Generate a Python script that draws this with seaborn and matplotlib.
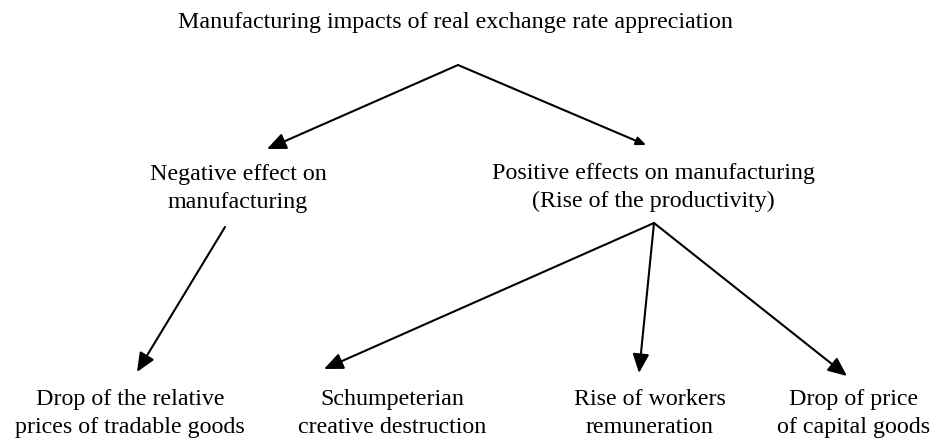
import matplotlib
matplotlib.use("Agg")
import matplotlib.pyplot as plt
import seaborn as sns

# ---- content ----
title = "Manufacturing impacts of real exchange rate appreciation"
node_labels = [
    "Negative effect on\nmanufacturing",
    "Positive effects on manufacturing\n(Rise of the productivity)",
    "Drop of the relative\nprices of tradable goods",
    "Schumpeterian\ncreative destruction",
    "Rise of workers\nremuneration",
    "Drop of price\nof capital goods",
]

# ---- layout (pixel coordinates; y = baseline of last text line) ----
title_pos = (455, 28)
node_pos = [(238, 208), (653, 207), (130, 433), (392, 433), (650, 433), (854, 433)]
# arrows: start -> end, head size scale
arrows = [
    ((458, 65), (267, 149), 1.0),
    ((458, 65), (646, 145), 0.5),
    ((225, 227), (137, 372), 1.0),
    ((654, 223), (324, 369), 1.0),
    ((654, 223), (639, 373), 1.0),
    ((654, 223), (847, 376), 1.0),
]

sns.set_theme(style="white")
plt.rcParams["font.family"] = ["Liberation Serif", "DejaVu Serif"]

fig = plt.figure(figsize=(9.35, 4.41), dpi=100)
ax = fig.add_axes([0, 0, 1, 1])
ax.set_xlim(0, 935)
ax.set_ylim(441, 0)
ax.axis("off")

fs = 17.3
ax.text(*title_pos, title, ha="center", va="baseline", fontsize=fs, color="black")
for (x, y), lab in zip(node_pos, node_labels):
    ax.text(x, y, lab, ha="center", va="baseline", fontsize=fs, color="black",
            linespacing=1.45, multialignment="center")

for (x0, y0), (x1, y1), s in arrows:
    ax.annotate("", xy=(x1, y1), xytext=(x0, y0),
                arrowprops=dict(arrowstyle=f"-|>,head_length={1.15*s},head_width={0.5*s}",
                                mutation_scale=10, color="black", lw=1.5,
                                shrinkA=0, shrinkB=0))

fig.savefig("out.png", dpi=100, facecolor="white")
